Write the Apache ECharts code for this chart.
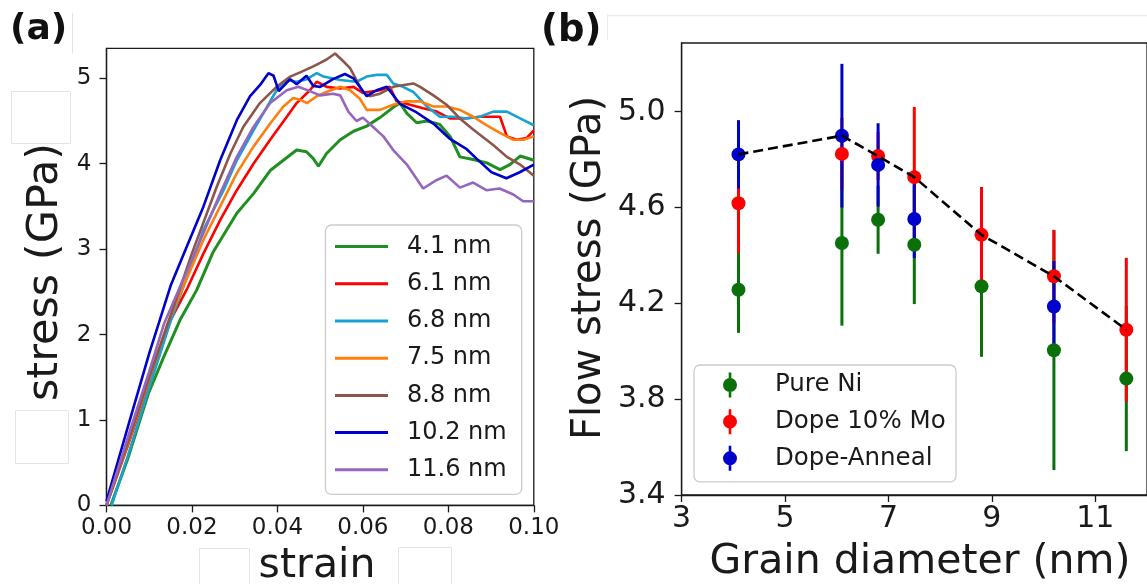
<!DOCTYPE html>
<html>
<head>
<meta charset="utf-8">
<script src="https://cdn.jsdelivr.net/npm/echarts@6/dist/echarts.min.js"></script>
<style>
  html, body { margin: 0; padding: 0; background: #fff; }
  #chart { width: 1147px; height: 584px; }
</style>
</head>
<body>
<div id="chart"></div>
<script>
// ---- panel (a): stress-strain curves ----
const strain41 = [0.001, 0.005, 0.0098, 0.0135, 0.0172, 0.0211, 0.025, 0.0305, 0.0344, 0.0383, 0.0414, 0.0445, 0.0468, 0.0484, 0.0496, 0.0515, 0.0547, 0.0578, 0.0609, 0.064, 0.0671, 0.0687, 0.0703, 0.0726, 0.075, 0.078, 0.0804, 0.0827, 0.0858, 0.089, 0.0921, 0.0944, 0.0968, 0.1];
const stress41 = [0.0, 0.55, 1.31, 1.75, 2.17, 2.52, 2.97, 3.42, 3.65, 3.92, 4.04, 4.16, 4.14, 4.06, 3.97, 4.12, 4.28, 4.38, 4.44, 4.54, 4.66, 4.71, 4.59, 4.48, 4.50, 4.46, 4.32, 4.08, 4.05, 4.01, 3.93, 3.99, 4.09, 4.04];

const strain61 = [0, 0.005, 0.0091, 0.0146, 0.019, 0.0227, 0.0266, 0.0305, 0.0344, 0.0383, 0.0422, 0.0445, 0.0476, 0.0492, 0.0515, 0.0547, 0.0578, 0.06, 0.064, 0.0663, 0.0679, 0.071, 0.0741, 0.0773, 0.0804, 0.0835, 0.0874, 0.0905, 0.0921, 0.0937, 0.096, 0.0983, 0.1];
const stress61 = [0, 0.70, 1.31, 2.13, 2.55, 2.95, 3.34, 3.69, 4.00, 4.28, 4.55, 4.71, 4.86, 4.96, 4.90, 4.88, 4.90, 4.83, 4.86, 4.90, 4.73, 4.69, 4.65, 4.61, 4.53, 4.53, 4.55, 4.55, 4.55, 4.32, 4.28, 4.30, 4.39];

const strain68 = [0.0012, 0.005, 0.01, 0.0149, 0.0203, 0.0227, 0.0274, 0.0305, 0.0344, 0.0375, 0.0398, 0.0422, 0.0445, 0.0469, 0.0492, 0.0508, 0.0547, 0.0585, 0.0609, 0.0632, 0.0656, 0.0671, 0.0694, 0.0718, 0.075, 0.078, 0.0812, 0.0843, 0.0874, 0.0905, 0.0937, 0.0968, 0.1];
const stress68 = [0.0, 0.58, 1.38, 2.14, 2.87, 3.23, 3.69, 4.04, 4.39, 4.66, 4.86, 4.98, 4.96, 4.99, 5.06, 5.02, 4.98, 4.96, 5.02, 5.04, 5.04, 4.94, 4.90, 4.84, 4.67, 4.55, 4.55, 4.53, 4.55, 4.61, 4.61, 4.53, 4.45];

const strain75 = [0, 0.005, 0.0089, 0.0143, 0.0176, 0.0227, 0.0266, 0.0305, 0.0344, 0.0383, 0.0414, 0.0437, 0.0453, 0.0469, 0.0492, 0.0515, 0.0547, 0.057, 0.0593, 0.0609, 0.064, 0.0671, 0.0702, 0.0734, 0.0765, 0.0796, 0.0827, 0.0858, 0.089, 0.0921, 0.0952, 0.0976, 0.1];
const stress75 = [0.0, 0.72, 1.31, 2.13, 2.52, 3.11, 3.50, 3.89, 4.20, 4.47, 4.67, 4.77, 4.75, 4.71, 4.79, 4.84, 4.90, 4.86, 4.76, 4.63, 4.63, 4.69, 4.73, 4.73, 4.67, 4.67, 4.63, 4.55, 4.45, 4.36, 4.28, 4.28, 4.32];

const strain88 = [0, 0.005, 0.01, 0.015, 0.02, 0.0258, 0.029, 0.032, 0.0359, 0.0398, 0.043, 0.0453, 0.0484, 0.05, 0.0515, 0.0535, 0.0554, 0.057, 0.0585, 0.06, 0.0616, 0.064, 0.0671, 0.0718, 0.0734, 0.0765, 0.0796, 0.0827, 0.0858, 0.0905, 0.0937, 0.0968, 0.1];
const stress88 = [0.0, 0.74, 1.50, 2.22, 2.95, 3.73, 4.12, 4.43, 4.71, 4.90, 5.02, 5.07, 5.14, 5.18, 5.22, 5.29, 5.20, 5.12, 4.98, 4.84, 4.79, 4.82, 4.90, 4.94, 4.90, 4.80, 4.69, 4.53, 4.40, 4.22, 4.08, 3.99, 3.86];

const strain102 = [0, 0.005, 0.01, 0.015, 0.0188, 0.0227, 0.0266, 0.0305, 0.0336, 0.0359, 0.0379, 0.0391, 0.0403, 0.043, 0.0445, 0.0468, 0.0484, 0.05, 0.053, 0.0558, 0.0578, 0.0609, 0.0632, 0.0656, 0.0687, 0.0726, 0.0765, 0.0804, 0.0843, 0.0866, 0.0901, 0.0936, 0.0967, 0.1];
const stress102 = [0.05, 0.92, 1.78, 2.57, 3.03, 3.50, 4.04, 4.51, 4.79, 4.92, 5.06, 5.03, 4.85, 4.99, 4.93, 5.03, 4.91, 4.90, 4.99, 5.05, 5.00, 4.79, 4.86, 4.90, 4.70, 4.60, 4.47, 4.29, 4.17, 4.06, 3.90, 3.83, 3.90, 3.99];

const strain116 = [0, 0.005, 0.01, 0.0135, 0.0172, 0.0227, 0.0266, 0.0305, 0.0344, 0.0383, 0.0422, 0.0449, 0.0476, 0.05, 0.053, 0.0547, 0.0566, 0.0585, 0.06, 0.0624, 0.0648, 0.0671, 0.0703, 0.0722, 0.0741, 0.0773, 0.0796, 0.0827, 0.0858, 0.0889, 0.092, 0.0952, 0.0975, 0.1];
const stress116 = [0.0, 0.80, 1.57, 2.13, 2.56, 3.19, 3.65, 4.08, 4.43, 4.71, 4.86, 4.90, 4.85, 4.80, 4.82, 4.80, 4.61, 4.50, 4.54, 4.43, 4.32, 4.16, 3.99, 3.85, 3.71, 3.81, 3.86, 3.72, 3.78, 3.69, 3.71, 3.64, 3.56, 3.56];

const curveNames = ['4.1 nm', '6.1 nm', '6.8 nm', '7.5 nm', '8.8 nm', '10.2 nm', '11.6 nm'];
const strainTicks = [0, 0.02, 0.04, 0.06, 0.08, 0.1];
const stressTicks = [0, 1, 2, 3, 4, 5];

// ---- panel (b): flow stress vs grain size ----
const grainDiameter = [4.1, 6.1, 6.8, 7.5, 8.8, 10.2, 11.6];
const pureNi = [4.257, 4.452, 4.549, 4.445, 4.271, 4.004, 3.886];
const pureNiErr = [0.18, 0.345, 0.142, 0.248, 0.294, 0.5, 0.303];
const dopeMo = [4.618, 4.824, 4.815, 4.727, 4.486, 4.313, 4.09];
const dopeMoErr = [0.21, 0.15, 0.1, 0.293, 0.2, 0.194, 0.3];
const dopeAnneal = [4.822, 4.90, 4.778, 4.552, null, 4.187, null];
const dopeAnnealErr = [0.143, 0.3, 0.174, 0.163, null, 0.19, null];
const trendLine = [4.822, 4.90, 4.815, 4.727, 4.486, 4.313, 4.09];
const grainTicks = [3, 5, 7, 9, 11];
const flowTicks = [3.4, 3.8, 4.2, 4.6, 5.0];

const FONT = 'DejaVu Sans';
const INK = '#1a1a1a';
const curveColors = ['#1f8f1f', '#ff0000', '#17a3d1', '#ff7f0e', '#8c564b', '#0000cc', '#9467bd'];

const zip = (xs, ys) => xs.map((x, i) => [x, ys[i]]);
const curves = [
  zip(strain41, stress41), zip(strain61, stress61), zip(strain68, stress68),
  zip(strain75, stress75), zip(strain88, stress88), zip(strain102, stress102),
  zip(strain116, stress116)
];

const chart = echarts.init(document.getElementById('chart'), null, { renderer: 'canvas' });

// error bar drawn through the axis scale
function errorBars(name, xs, ys, errs, color, z) {
  const data = [];
  xs.forEach((x, i) => { if (ys[i] != null) data.push([x, ys[i], errs[i]]); });
  return {
    type: 'custom', name: name + ' err', xAxisIndex: 1, yAxisIndex: 1, z: z,
    silent: true, clip: false,
    renderItem: function (params, api) {
      const x = api.value(0), y = api.value(1), e = api.value(2);
      const p1 = api.coord([x, y + e]);
      const p2 = api.coord([x, y - e]);
      return {
        type: 'line',
        shape: { x1: p1[0], y1: p1[1], x2: p2[0], y2: p2[1] },
        style: { stroke: color, lineWidth: 3 }
      };
    },
    data: data
  };
}

function dots(name, xs, ys, color, z) {
  const data = [];
  xs.forEach((x, i) => { if (ys[i] != null) data.push([x, ys[i]]); });
  return {
    type: 'scatter', name: name, xAxisIndex: 1, yAxisIndex: 1, z: z,
    symbol: 'circle', symbolSize: 14, itemStyle: { color: color, opacity: 1 },
    data: data
  };
}

const errIcon = 'path://M6.2,0h2.6v25h-2.6z M0.5,12.5a7,7 0 1,1 14,0a7,7 0 1,1 -14,0z';

const axisLineStyle = { color: INK, width: 1.3 };

const option = {
  animation: false,
  backgroundColor: '#fff',
  grid: [
    { left: 106.5, top: 48.4, width: 427.3, height: 457, show: true, borderColor: INK, borderWidth: 1.3, backgroundColor: 'transparent' },
    { left: 681.6, top: 43, width: 477, height: 452, show: true, borderColor: INK, borderWidth: 1.3, backgroundColor: 'transparent' }
  ],
  xAxis: [
    {
      type: 'value', gridIndex: 0, min: 0, max: 0.1,
      axisLine: { lineStyle: axisLineStyle },
      axisTick: { customValues: strainTicks, length: 7, lineStyle: axisLineStyle },
      axisLabel: { customValues: strainTicks, formatter: v => v.toFixed(2), fontFamily: FONT, fontSize: 23, color: INK, margin: 11 },
      splitLine: { show: false }
    },
    {
      type: 'value', gridIndex: 1, min: 3, max: 12,
      axisLine: { lineStyle: axisLineStyle },
      axisTick: { customValues: grainTicks, length: 7, lineStyle: axisLineStyle },
      axisLabel: { customValues: grainTicks, formatter: v => String(v), fontFamily: FONT, fontSize: 30, color: INK, margin: 9 },
      splitLine: { show: false }
    }
  ],
  yAxis: [
    {
      type: 'value', gridIndex: 0, min: 0, max: 5.35,
      axisLine: { lineStyle: axisLineStyle },
      axisTick: { customValues: stressTicks, length: 7, lineStyle: axisLineStyle },
      axisLabel: { customValues: stressTicks, formatter: v => String(v), fontFamily: FONT, fontSize: 23, color: INK, margin: 15 },
      splitLine: { show: false }
    },
    {
      type: 'value', gridIndex: 1, min: 3.4, max: 5.287,
      axisLine: { lineStyle: axisLineStyle },
      axisTick: { customValues: flowTicks, length: 7, lineStyle: axisLineStyle },
      axisLabel: { customValues: flowTicks, formatter: v => v.toFixed(1), fontFamily: FONT, fontSize: 30, color: INK, margin: 16 },
      splitLine: { show: false }
    }
  ],
  legend: [
    {
      data: curveNames, orient: 'vertical', left: 325.5, top: 225,
      padding: [3, 15, 6, 9.5], itemGap: 0, itemWidth: 53, itemHeight: 3, icon: 'rect',
      textStyle: { fontFamily: FONT, fontSize: 24, color: INK, lineHeight: 37.2, padding: [0, 0, 0, 14] },
      backgroundColor: 'rgba(255,255,255,0.85)', borderColor: '#cccccc', borderWidth: 1.3, borderRadius: 6,
      selectedMode: false, z: 20
    },
    {
      data: [
        { name: 'Pure Ni', icon: errIcon },
        { name: 'Dope 10% Mo', icon: errIcon },
        { name: 'Dope-Anneal', icon: errIcon }
      ],
      orient: 'vertical', left: 694, top: 365,
      padding: [1.6, 10.4, 5.2, 29], itemGap: 0, itemWidth: 14, itemHeight: 25,
      textStyle: { fontFamily: FONT, fontSize: 24.5, color: INK, lineHeight: 36.7, padding: [0, 0, 0, 33] },
      backgroundColor: 'rgba(255,255,255,0.85)', borderColor: '#cccccc', borderWidth: 1.3, borderRadius: 6,
      selectedMode: false, z: 20
    }
  ],
  series: [
    ...curves.map((data, i) => ({
      type: 'line', name: curveNames[i], xAxisIndex: 0, yAxisIndex: 0,
      showSymbol: false, symbol: 'none', color: curveColors[i],
      lineStyle: { width: i === 0 ? 3 : 2.6, color: curveColors[i] },
      data: data, z: 2
    })),
    errorBars('Pure Ni', grainDiameter, pureNi, pureNiErr, '#0a700a', 3),
    errorBars('Dope 10% Mo', grainDiameter, dopeMo, dopeMoErr, '#ff0000', 4),
    errorBars('Dope-Anneal', grainDiameter, dopeAnneal, dopeAnnealErr, '#0000cc', 5),
    dots('Pure Ni', grainDiameter, pureNi, '#0a700a', 6),
    dots('Dope 10% Mo', grainDiameter, dopeMo, '#ff0000', 7),
    dots('Dope-Anneal', grainDiameter, dopeAnneal, '#0000cc', 8),
    {
      type: 'line', name: 'trend', xAxisIndex: 1, yAxisIndex: 1, z: 9,
      showSymbol: false, symbol: 'none',
      lineStyle: { color: '#000', width: 2.6, type: [10, 5] },
      data: zip(grainDiameter, trendLine)
    }
  ],
  graphic: [
    // panel labels
    { type: 'text', left: 10, top: 12, style: { text: '(a)', fontFamily: FONT, fontWeight: 'bold', fontSize: 36, fill: '#111' } },
    { type: 'text', left: 541, top: 13, style: { text: '(b)', fontFamily: FONT, fontWeight: 'bold', fontSize: 37, fill: '#111' } },
    // axis titles
    { type: 'text', x: 46, y: 272, rotation: Math.PI / 2, style: { text: 'stress (GPa)', fontFamily: FONT, fontSize: 43, fill: INK, textAlign: 'center', textVerticalAlign: 'middle' } },
    { type: 'text', x: 317, y: 566, style: { text: 'strain', fontFamily: FONT, fontSize: 41, fill: INK, textAlign: 'center', textVerticalAlign: 'middle' } },
    { type: 'text', x: 590, y: 268, rotation: Math.PI / 2, style: { text: 'Flow stress (GPa)', fontFamily: FONT, fontSize: 40, fill: INK, textAlign: 'center', textVerticalAlign: 'middle' } },
    { type: 'text', x: 920, y: 562, style: { text: 'Grain diameter (nm)', fontFamily: FONT, fontSize: 41, fill: INK, textAlign: 'center', textVerticalAlign: 'middle' } },
    // faint page artefacts
    { type: 'line', shape: { x1: 72.5, y1: 13, x2: 72.5, y2: 53 }, style: { stroke: '#e2e2e2', lineWidth: 1 } },
    { type: 'line', shape: { x1: 607, y1: 15.5, x2: 1147, y2: 15.5 }, style: { stroke: '#ececec', lineWidth: 1.5 } },
    { type: 'line', shape: { x1: 607.5, y1: 14, x2: 607.5, y2: 40 }, style: { stroke: '#ececec', lineWidth: 1 } },
    { type: 'rect', shape: { x: 11.5, y: 91.5, width: 59, height: 52 }, style: { fill: '#fff', stroke: '#e4e4e4', lineWidth: 1 }, z: 30 },
    { type: 'rect', shape: { x: 15.5, y: 410.5, width: 53, height: 53 }, style: { fill: '#fff', stroke: '#e4e4e4', lineWidth: 1 }, z: 30 },
    { type: 'rect', shape: { x: 199.5, y: 548.5, width: 50, height: 40 }, style: { fill: '#fff', stroke: '#e4e4e4', lineWidth: 1 }, z: 30 },
    { type: 'rect', shape: { x: 398.5, y: 547.5, width: 53, height: 40 }, style: { fill: '#fff', stroke: '#e4e4e4', lineWidth: 1 }, z: 30 }
  ]
};

chart.setOption(option);
</script>
</body>
</html>
